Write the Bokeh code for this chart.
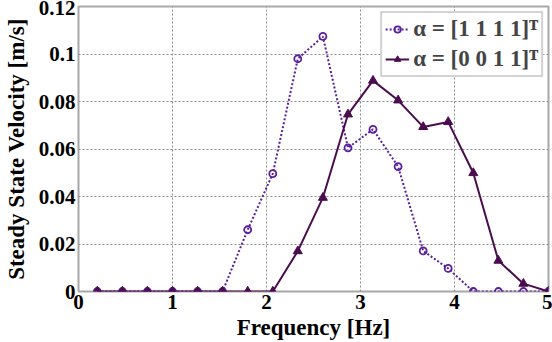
from bokeh.plotting import figure
from bokeh.models import Legend, LegendItem, Range1d, FixedTicker
from bokeh.embed import file_html
from bokeh.resources import INLINE

# Excitation frequencies [Hz]
freq = [0.2, 0.467, 0.733, 1.0, 1.267, 1.533, 1.8, 2.067, 2.333, 2.6,
        2.867, 3.133, 3.4, 3.667, 3.933, 4.2, 4.467, 4.733, 5.0]

# Steady state velocity [m/s] for alpha = [1 1 1 1]^T
vel_all = [0, 0, 0, 0, 0, 0, 0.026, 0.0496, 0.098, 0.1074,
           0.0605, 0.0683, 0.0526, 0.0171, 0.0097, 0, 0, 0, 0]

# Steady state velocity [m/s] for alpha = [0 0 1 1]^T
vel_two = [0, 0, 0, 0, 0, 0, 0, 0, 0.017, 0.0395,
           0.0746, 0.0888, 0.0805, 0.0693, 0.0714, 0.0499, 0.013, 0.0033, 0]

x_ticks = [0, 1, 2, 3, 4, 5]
y_ticks = [0, 0.02, 0.04, 0.06, 0.08, 0.1, 0.12]
y_tick_labels = {0: "0", 0.02: "0.02", 0.04: "0.04", 0.06: "0.06",
                 0.08: "0.08", 0.1: "0.1", 0.12: "0.12"}

legend_labels = ["\u03b1 = [1 1 1 1]\u1d40", "\u03b1 = [0 0 1 1]\u1d40"]

C_ALL = "#5a1e9c"
C_TWO = "#4a0c4e"
FONT = "Liberation Serif"

p = figure(width=552, height=342, output_backend="svg", toolbar_location=None,
           x_range=Range1d(0, 5), y_range=Range1d(0, 0.12),
           min_border_left=76, min_border_right=4, min_border_top=6,
           min_border_bottom=48)

p.outline_line_color = "#a8a8a8"
p.outline_line_width = 2
p.background_fill_color = "white"
p.border_fill_color = "white"

for ax in (p.xaxis[0], p.yaxis[0]):
    ax.axis_line_color = None
    ax.major_tick_line_color = None
    ax.minor_tick_line_color = None
    ax.major_tick_out = 0
    ax.major_tick_in = 0
    ax.major_label_text_font = FONT
    ax.major_label_text_font_style = "bold"
    ax.major_label_text_font_size = "21px"
    ax.major_label_text_color = "black"
    ax.axis_label_text_font = FONT
    ax.axis_label_text_font_style = "bold"
    ax.axis_label_text_font_size = "23px"
    ax.axis_label_text_color = "black"

p.xaxis.ticker = FixedTicker(ticks=x_ticks)
p.yaxis.ticker = FixedTicker(ticks=y_ticks)
p.yaxis.major_label_overrides = y_tick_labels
p.xaxis.axis_label = "Frequency [Hz]"
p.yaxis.axis_label = "Steady State Velocity [m/s]"
p.xaxis.major_label_standoff = 3
p.xaxis.axis_label_standoff = 3
p.yaxis.major_label_standoff = 3
p.yaxis.axis_label_standoff = 7

for g in (p.xgrid[0], p.ygrid[0]):
    g.grid_line_color = "#8c8c8c"
    g.grid_line_dash = "2 2"
    g.grid_line_width = 1

# alpha = [1 1 1 1]^T : dotted line, hollow circles
l1 = p.line(freq, vel_all, line_color=C_ALL, line_width=2, line_dash="2 2")
s1 = p.scatter(freq, vel_all, marker="circle", size=7, fill_color=None,
               line_color=C_ALL, line_width=1.8)

# alpha = [0 0 1 1]^T : solid line, filled triangles
l2 = p.line(freq, vel_two, line_color=C_TWO, line_width=2)
s2 = p.scatter(freq, vel_two, marker="triangle", size=9, fill_color=C_TWO,
               line_color=C_TWO, line_width=1)

legend = Legend(items=[LegendItem(label=legend_labels[0], renderers=[l1, s1]),
                       LegendItem(label=legend_labels[1], renderers=[l2, s2])],
                location="top_right", margin=5, padding=3, spacing=4,
                glyph_width=24, glyph_height=16, label_standoff=4,
                label_text_font=FONT, label_text_font_style="bold",
                label_text_font_size="23px", label_text_baseline="middle",
                border_line_color="#a8a8a8", border_line_width=2,
                background_fill_alpha=1)
p.add_layout(legend, "center")

open("out.html", "w").write(file_html(p, INLINE))
